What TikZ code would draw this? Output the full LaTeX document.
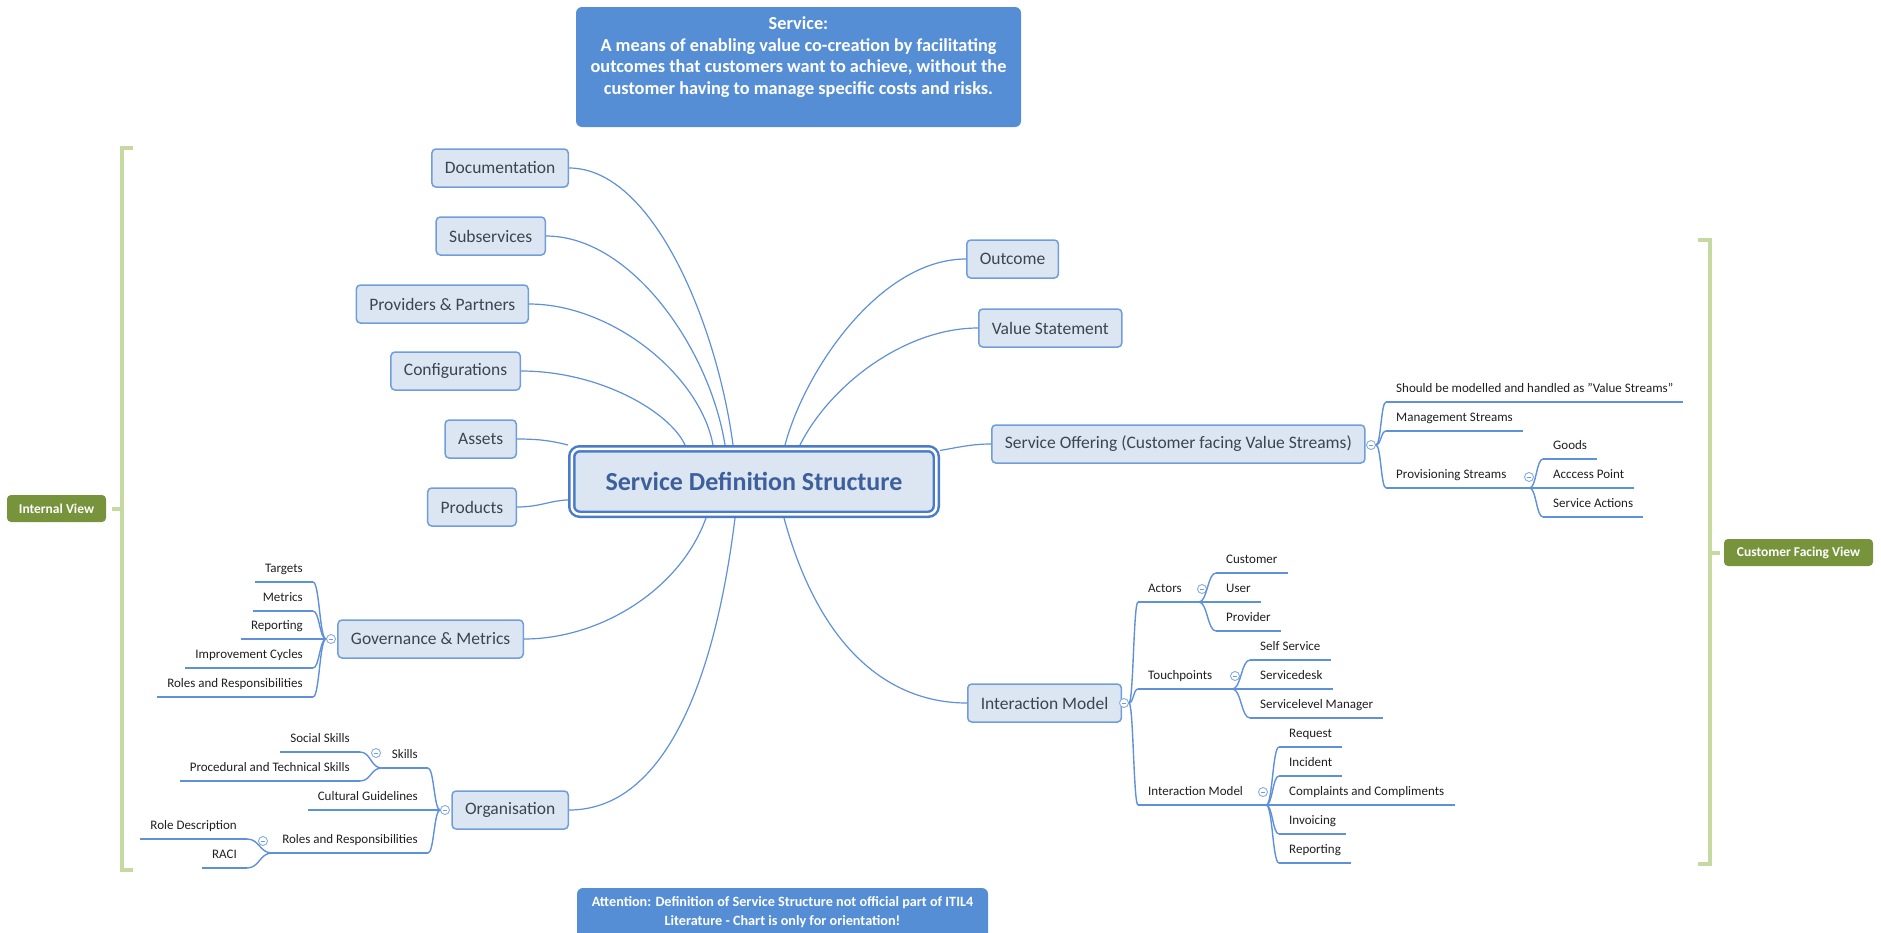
\documentclass[tikz,border=0pt]{standalone}
\usepackage{fontspec}
\setmainfont{Carlito}
\usetikzlibrary{calc}

\definecolor{topicfill}{HTML}{DCE6F2}
\definecolor{topicdraw}{HTML}{6F9EDA}
\definecolor{topictext}{HTML}{3B4452}
\definecolor{wire}{HTML}{5E91D9}
\definecolor{boxblue}{HTML}{558ED5}
\definecolor{viewgreen}{HTML}{77933C}
\definecolor{bracegreen}{HTML}{C6D9A0}
\definecolor{titleblue}{HTML}{3D5F9C}
\definecolor{mainline}{HTML}{4A7BCB}

\begin{document}
\begin{tikzpicture}[x=1pt, y=-1pt,
  topic/.style={draw=topicdraw, fill=topicfill, line width=1.5pt, rounded corners=4pt,
    minimum height=38pt, inner xsep=13pt, text=topictext,
    font=\fontsize{17.5pt}{21pt}\selectfont},
  sub/.style={inner xsep=10pt, inner ysep=3pt, text height=10pt, text depth=6pt,
    font=\fontsize{13pt}{15pt}\selectfont, text=black!88},
  subL/.style={sub, anchor=south east},
  subR/.style={sub, anchor=south west},
  uline/.style={draw=wire, line width=2pt},
  conn/.style={draw=wire, line width=1.2pt},
  branch/.style={draw=wire, line width=1.4pt,
    to path={let \p1=(\tikztostart), \p2=(\tikztotarget) in
      .. controls ({0.5*\x1+0.5*\x2},\y1) and ({0.5*\x1+0.5*\x2},\y2) .. (\tikztotarget)}},
  fold/.style={circle, draw=wire!75, fill=white, line width=0.9pt, minimum size=9pt, inner sep=0pt,
    path picture={\draw[wire!90, line width=0.8pt]
      ([xshift=-2.3pt]path picture bounding box.center) -- ([xshift=2.3pt]path picture bounding box.center);}},
  infobox/.style={fill=boxblue, rounded corners=6pt},
  infotext/.style={text=white, align=center, font=\bfseries\fontsize{18.3pt}{21.5pt}\selectfont},
  view/.style={fill=viewgreen, rounded corners=4pt, text=white, inner sep=0pt,
    minimum height=27pt, font=\bfseries\fontsize{13.5pt}{16pt}\selectfont},
  brace/.style={draw=bracegreen, line width=4pt},
]
\useasboundingbox (0,0) rectangle (1881,932);

% ---------- definition and note boxes ----------
\node[infobox, minimum width=445pt, minimum height=120pt] (def) at (798.5,67) {};
\node[infotext] (deftext) at (798.5,57) {Service:\\A means of enabling value co-creation by facilitating\\outcomes that customers want to achieve, without the\\customer having to manage specific costs and risks.};
\node[infobox, minimum width=411pt, minimum height=60pt] (note) at (782.5,918) {};
\node[infotext, font=\bfseries\fontsize{14.2pt}{19pt}\selectfont] (notetext) at (782.5,912.5) {Attention: Definition of Service Structure not official part of ITIL4\\Literature - Chart is only for orientation!};

% ---------- central topic ----------
\node[draw=mainline, line width=2.5pt, double=white, double distance=2.5pt, fill=topicfill,
  rounded corners=8pt, minimum width=364.5pt, minimum height=65.5pt, outer sep=3.75pt,
  text=titleblue, font=\bfseries\fontsize{26pt}{30pt}\selectfont] (main) at (754,481.5) {Service Definition Structure};

% ---------- main topics, left ----------
\node[topic, anchor=east] (doc)    at (569,168) {Documentation};
\node[topic, anchor=east] (subs)   at (546,236) {Subservices};
\node[topic, anchor=east] (prov)   at (529,304) {Providers \& Partners};
\node[topic, anchor=east] (conf)   at (521,371) {Configurations};
\node[topic, anchor=east] (assets) at (517,439) {Assets};
\node[topic, anchor=east] (prod)   at (517,507) {Products};
\node[topic, anchor=east] (gov)    at (524,639) {Governance \& Metrics};
\node[topic, anchor=east] (org)    at (569,810) {Organisation};

% ---------- main topics, right ----------
\node[topic, anchor=west] (outcome) at (966,259) {Outcome};
\node[topic, anchor=west] (value)   at (978,328) {Value Statement};
\node[topic, anchor=west] (offer)   at (991,444) {Service Offering (Customer facing Value Streams)};
\node[topic, anchor=west] (inter)   at (967,703) {Interaction Model};

% ---------- links from the central topic ----------
\draw[conn] (doc.east) .. controls (655,168) and (718,330) .. ([xshift=-21pt]main.north);
\draw[conn] (subs.east) .. controls (632,236) and (710,350) .. ([xshift=-29pt]main.north);
\draw[conn] (prov.east) .. controls (612,304) and (700,375) .. ([xshift=-41pt]main.north);
\draw[conn] (conf.east) .. controls (600,371) and (670,412) .. ([xshift=-69pt]main.north);
\draw[conn] (assets.east) .. controls (540,439) and (552,441) .. (main.north west);
\draw[conn] (prod.east) .. controls (540,507) and (552,500) .. ([yshift=-18.5pt]main.west);
\draw[conn] ([xshift=-48pt]main.south) .. controls (680,590) and (600,639) .. (gov.east);
\draw[conn] ([xshift=-19pt]main.south) .. controls (715,680) and (665,810) .. (org.east);
\draw[conn] ([xshift=31pt]main.north) .. controls (805,370) and (880,259) .. (outcome.west);
\draw[conn] ([xshift=46pt]main.north) .. controls (830,385) and (905,328) .. (value.west);
\draw[conn] ([yshift=31pt]main.east) .. controls (960,447) and (972,444) .. (offer.west);
\draw[conn] ([xshift=30pt]main.south) .. controls (820,650) and (890,703) .. (inter.west);

% ---------- fold markers ----------
\node[fold] (govc)    at (331,639) {};
\node[fold] (orgc)    at (445,810) {};
\node[fold] (skillsc) at (376,753) {};
\node[fold] (rolesoc) at (263,841) {};
\node[fold] (interc)  at (1124,703) {};
\node[fold] (actorsc) at (1202,589) {};
\node[fold] (touchc)  at (1235,676) {};
\node[fold] (imodelc) at (1263,792) {};
\node[fold] (offc)    at (1371,445) {};
\node[fold] (provsc)  at (1529,477) {};

% ---------- Governance & Metrics ----------
\node[subL] (targets) at (313,582) {Targets};
\node[subL] (metrics) at (313,611) {Metrics};
\node[subL] (repg)    at (313,639) {Reporting};
\node[subL] (improve) at (313,668) {Improvement Cycles};
\node[subL] (rolesg)  at (313,697) {Roles and Responsibilities};
\foreach \k in {targets,metrics,repg,improve,rolesg}
  \draw[branch] (\k.south east) to (govc.west);

% ---------- Organisation ----------
\node[subL] (skills)   at (428,768) {Skills};
\node[subL] (culture)  at (428,810) {Cultural Guidelines};
\node[subL] (roleso)   at (428,853) {Roles and Responsibilities};
\node[subL] (social)   at (360,752) {Social Skills};
\node[subL] (proc)     at (360,781) {Procedural and Technical Skills};
\node[subL] (roledesc) at (247,839) {Role Description};
\node[subL] (raci)     at (247,868) {RACI};
\foreach \k in {skills,culture,roleso}
  \draw[branch] (\k.south east) to (orgc.west);
\foreach \k in {social,proc}
  \draw[branch] (\k.south east) to (skills.south west);
\foreach \k in {roledesc,raci}
  \draw[branch] (\k.south east) to (roleso.south west);

% ---------- Service Offering ----------
\node[subR] (should) at (1386,402) {Should be modelled and handled as "Value Streams"};
\node[subR] (mgmt)   at (1386,431) {Management Streams};
\node[subR] (provs)  at (1386,488) {Provisioning Streams};
\node[subR] (goods)  at (1543,459) {Goods};
\node[subR] (access) at (1543,488) {Acccess Point};
\node[subR] (sacts)  at (1543,517) {Service Actions};
\foreach \k in {should,mgmt,provs}
  \draw[branch] (offc.east) to (\k.south west);
\foreach \k in {goods,access,sacts}
  \draw[branch] (provs.south east) -- ++(13,0) to (\k.south west);

% ---------- Interaction Model ----------
\node[subR] (actors)   at (1138,602) {Actors};
\node[subR] (touch)    at (1138,689) {Touchpoints};
\node[subR] (imodel)   at (1138,805) {Interaction Model};
\node[subR] (customer) at (1216,573) {Customer};
\node[subR] (user)     at (1216,602) {User};
\node[subR] (provider) at (1216,631) {Provider};
\node[subR] (selfserv) at (1250,660) {Self Service};
\node[subR] (desk)     at (1250,689) {Servicedesk};
\node[subR] (slm)      at (1250,718) {Servicelevel Manager};
\node[subR] (request)  at (1279,747) {Request};
\node[subR] (incident) at (1279,776) {Incident};
\node[subR] (complain) at (1279,805) {Complaints and Compliments};
\node[subR] (invoice)  at (1279,834) {Invoicing};
\node[subR] (repi)     at (1279,863) {Reporting};
\foreach \k in {actors,touch,imodel}
  \draw[branch] (interc.east) to (\k.south west);
\foreach \k in {customer,user,provider}
  \draw[branch] (actors.south east) -- ++(7,0) to (\k.south west);
\foreach \k in {selfserv,desk,slm}
  \draw[branch] (touch.south east) -- ++(10,0) to (\k.south west);
\foreach \k in {request,incident,complain,invoice,repi}
  \draw[branch] (imodel.south east) -- ++(13,0) to (\k.south west);

% ---------- underlines of the floating subtopics ----------
\foreach \k in {targets,metrics,repg,improve,rolesg,skills,culture,roleso,social,proc,roledesc,raci,
  should,mgmt,provs,goods,access,sacts,actors,touch,imodel,customer,user,provider,
  selfserv,desk,slm,request,incident,complain,invoice,repi}
  \draw[uline] (\k.south west) -- (\k.south east);

% ---------- view brackets ----------
\node[view, minimum width=99pt]  (iv)  at (56.5,508.5) {Internal View};
\node[view, minimum width=149pt] (cfv) at (1798.5,552.5) {Customer Facing View};
\coordinate (ivjoin) at (122,508.5);
\coordinate (cfvjoin) at (1710,552.5);
\draw[brace] (133,148) -- (122,148) -- (122,870) -- (133,870);
\draw[brace] ([xshift=6pt]iv.east) -- (ivjoin);
\draw[brace] (1698,240) -- (1710,240) -- (1710,864) -- (1698,864);
\draw[brace] (cfvjoin) -- ([xshift=-4pt]cfv.west);
\end{tikzpicture}
\end{document}
